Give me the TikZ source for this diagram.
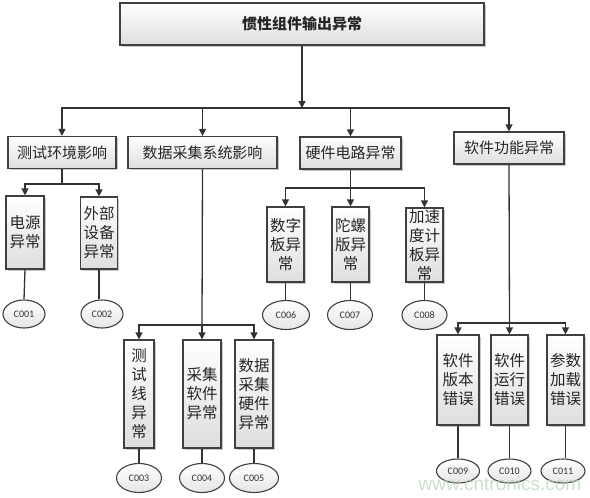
\documentclass[tikz,border=0pt]{standalone}
\usepackage{fontspec}
\setmainfont{Noto Sans CJK SC}
\newfontfamily\codefont{Carlito}
\newfontfamily\wmfont{Liberation Sans}
\usetikzlibrary{shapes.geometric,arrows.meta,shadows}
\begin{document}
\begin{tikzpicture}[x=1pt,y=-1pt,
  boxbase/.style={draw=black!75,line width=1.2pt,top color=white,bottom color=black!13,
    drop shadow={shadow xshift=1.5pt,shadow yshift=-1.5pt,fill=black!35,opacity=0.6},
    inner sep=0pt,align=center,text=black!85},
  topbox/.style={boxbase,minimum width=364pt,minimum height=42pt,font=\fontsize{15}{18}\selectfont\bfseries},
  catbox/.style={boxbase,minimum height=32pt,font=\fontsize{15}{18}\selectfont},
  leafbox/.style={boxbase,minimum width=37pt,font=\fontsize{15.5}{19}\selectfont},
  code/.style={ellipse,draw=black!75,line width=1.1pt,top color=white,bottom color=black!10,
    minimum width=45pt,minimum height=29pt,inner sep=0pt,text=black!80,font=\codefont\fontsize{10}{11}\selectfont},
  conn/.style={draw=black!80,line width=1.3pt},
  arr/.style={conn,-{Triangle[width=7pt,length=7pt]}}]
\useasboundingbox (0,0) rectangle (590,498);
\fill[white] (0,0) rectangle (590,498);

% top
\node[topbox] (top) at (302,24) {惯性组件输出异常};
% categories
\node[catbox,minimum width=108pt] (ca) at (62,152.5) {测试环境影响};
\node[catbox,minimum width=149pt] (cb) at (202.5,152.5) {数据采集系统影响};
\node[catbox,minimum width=101pt] (cc) at (350.5,153) {硬件电路异常};
\node[catbox,minimum width=110pt] (cd) at (509,148) {软件功能异常};

% leaves
\node[leafbox,minimum width=38pt,minimum height=73pt] (a1) at (25,232.5) {电源\\异常};
\node[leafbox,minimum height=72pt] (a2) at (99,233) {外部\\设备\\异常};

\node[leafbox,minimum width=30pt,minimum height=108pt] (b1) at (139,394) {测\\试\\线\\异\\常};
\node[leafbox,minimum width=38pt,minimum height=108pt] (b2) at (202,394) {采集\\软件\\异常};
\node[leafbox,minimum width=38pt,minimum height=108pt] (b3) at (254,394) {数据\\采集\\硬件\\异常};

\node[leafbox,minimum height=75pt] (c1) at (285.5,244.5) {数字\\板异\\常};
\node[leafbox,minimum height=75pt] (c2) at (350.5,244.5) {陀螺\\版异\\常};
\node[leafbox,minimum height=74pt] (c3) at (424.5,245) {加速\\度计\\板异\\常};

\node[leafbox,minimum width=42pt,minimum height=90pt] (d1) at (458,380) {软件\\版本\\错误};
\node[leafbox,minimum height=90pt] (d2) at (509.5,380) {软件\\运行\\错误};
\node[leafbox,minimum height=90pt] (d3) at (565.5,380) {参数\\加载\\错误};

% codes
\node[code,minimum width=42pt,minimum height=28pt] (e1) at (24,314) {C001};
\node[code,minimum width=42pt,minimum height=28pt] (e2) at (102,314) {C002};
\node[code] (e3) at (139,478) {C003};
\node[code] (e4) at (202,478) {C004};
\node[code,minimum width=49pt] (e5) at (254,478) {C005};
\node[code,minimum width=47pt] (e6) at (286,315) {C006};
\node[code] (e7) at (350,315) {C007};
\node[code] (e8) at (424.5,315) {C008};
\node[code,minimum width=43pt,minimum height=24pt] (e9) at (458,471) {C009};
\node[code,minimum width=43pt,minimum height=24pt] (e10) at (509.5,471) {C010};
\node[code,minimum width=44pt,minimum height=24pt] (e11) at (563,471) {C011};

% top to categories
\coordinate (bus0) at (302,108);
\draw[arr] (top.south) -- (bus0);
\foreach \c in {ca,cb,cc,cd} \draw[arr] (bus0) -| (\c.north);

% branch a
\coordinate (busa) at (62,184);
\draw[conn] (ca.south) -- (busa);
\draw[arr] (busa) -| (a1.north);
\draw[arr] (busa) -| (a2.north);
% branch b
\coordinate (busb) at (202,325);
\draw[conn] (cb.south) -- (busb);
\foreach \n in {b1,b2,b3} \draw[arr] (busb) -| (\n.north);
% branch c
\coordinate (busc) at (350.5,188);
\draw[conn] (cc.south) -- (busc);
\foreach \n in {c1,c2,c3} \draw[arr] (busc) -| (\n.north);
% branch d
\coordinate (busd) at (509.5,323);
\draw[conn] (cd.south) -- (busd);
\foreach \n in {d1,d2,d3} \draw[arr] (busd) -| (\n.north);

% leaves to codes
\draw[conn] (a1.south) -- (e1.north);
\draw[conn] (a2.south) -- (a2.south |- e2.north);
\draw[conn] (b1.south) -- (e3.north);
\draw[conn] (b2.south) -- (e4.north);
\draw[conn] (b3.south) -- (e5.north);
\draw[conn] (c1.south) -- (c1.south |- e6.north);
\draw[conn] (c2.south) -- (c2.south |- e7.north);
\draw[conn] (c3.south) -- (e8.north);
\draw[conn] (d1.south) -- (e9.north);
\draw[conn] (d2.south) -- (e10.north);
\draw[conn] (d3.south) -- (d3.south |- e11.north);

% watermark
\node[text=green!45!black!30,opacity=0.7,font=\wmfont\fontsize{19}{20}\selectfont] (wm) at (500,484) {www.cntronics.com};
\end{tikzpicture}
\end{document}
